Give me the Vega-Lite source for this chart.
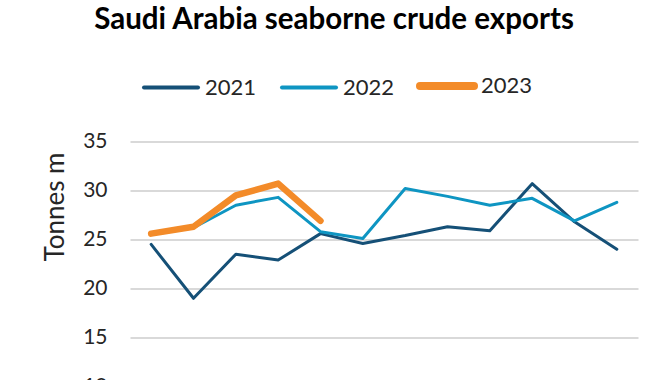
{
  "$schema": "https://vega.github.io/schema/vega-lite/v6.json",
  "width": 508,
  "height": 245,
  "autosize": "none",
  "padding": {"left": 130, "top": 141.5, "right": 32, "bottom": 0},
  "background": "white",
  "title": {
    "text": "Saudi Arabia seaborne crude exports",
    "font": "Lato",
    "fontSize": 29.5,
    "fontWeight": "bold",
    "color": "#000000",
    "anchor": "middle",
    "frame": "group",
    "dx": -50,
    "offset": 20
  },
  "data": {
    "values": [
      {"month": "Jan", "year": "2021", "value": 24.5},
      {"month": "Feb", "year": "2021", "value": 19.0},
      {"month": "Mar", "year": "2021", "value": 23.5},
      {"month": "Apr", "year": "2021", "value": 22.9},
      {"month": "May", "year": "2021", "value": 25.6},
      {"month": "Jun", "year": "2021", "value": 24.6},
      {"month": "Jul", "year": "2021", "value": 25.4},
      {"month": "Aug", "year": "2021", "value": 26.3},
      {"month": "Sep", "year": "2021", "value": 25.9},
      {"month": "Oct", "year": "2021", "value": 30.7},
      {"month": "Nov", "year": "2021", "value": 26.8},
      {"month": "Dec", "year": "2021", "value": 24.0},
      {"month": "Jan", "year": "2022", "value": 25.5},
      {"month": "Feb", "year": "2022", "value": 26.2},
      {"month": "Mar", "year": "2022", "value": 28.5},
      {"month": "Apr", "year": "2022", "value": 29.3},
      {"month": "May", "year": "2022", "value": 25.8},
      {"month": "Jun", "year": "2022", "value": 25.1},
      {"month": "Jul", "year": "2022", "value": 30.2},
      {"month": "Aug", "year": "2022", "value": 29.4},
      {"month": "Sep", "year": "2022", "value": 28.5},
      {"month": "Oct", "year": "2022", "value": 29.2},
      {"month": "Nov", "year": "2022", "value": 26.9},
      {"month": "Dec", "year": "2022", "value": 28.8},
      {"month": "Jan", "year": "2023", "value": 25.6},
      {"month": "Feb", "year": "2023", "value": 26.3},
      {"month": "Mar", "year": "2023", "value": 29.5},
      {"month": "Apr", "year": "2023", "value": 30.7},
      {"month": "May", "year": "2023", "value": 26.9}
    ]
  },
  "mark": {"type": "line", "strokeJoin": "round", "strokeCap": "round"},
  "encoding": {
    "x": {
      "field": "month",
      "type": "ordinal",
      "sort": ["Jan","Feb","Mar","Apr","May","Jun","Jul","Aug","Sep","Oct","Nov","Dec"],
      "scale": {"type": "point", "padding": 0.5},
      "axis": {"title": null, "labels": false, "ticks": false, "domainColor": "#d9d9d9", "domainWidth": 2}
    },
    "y": {
      "field": "value",
      "type": "quantitative",
      "scale": {"domain": [10, 35], "nice": false, "zero": false},
      "axis": {
        "title": "Tonnes m",
        "values": [10, 15, 20, 25, 30, 35],
        "domain": false,
        "ticks": false,
        "grid": true,
        "gridColor": "#d9d9d9",
        "gridWidth": 2,
        "labelFont": "Lato",
        "labelFontSize": 21,
        "labelColor": "#262626",
        "labelPadding": 23,
        "titleFont": "Lato",
        "titleFontSize": 26,
        "titleFontWeight": "normal",
        "titleColor": "#262626",
        "titleAngle": -90,
        "titleAlign": "center",
        "titleBaseline": "alphabetic",
        "titleX": -67,
        "titleY": 65
      }
    },
    "color": {
      "field": "year",
      "type": "nominal",
      "scale": {"domain": ["2021", "2022", "2023"], "range": ["#155077", "#0e95c2", "#f38b29"]},
      "legend": {
        "title": null,
        "orient": "none",
        "direction": "horizontal",
        "legendX": 12,
        "legendY": -86.5,
        "padding": 0,
        "symbolType": "stroke",
        "symbolSize": 2916,
        "labelFont": "Lato",
        "labelFontSize": 22,
        "labelColor": "#262626",
        "labelOffset": 5,
        "gridAlign": "all",
        "columnPadding": 9,
        "encode": {
          "symbols": {"update": {
            "strokeCap": {"value": "round"},
            "y": {"signal": "(datum.value === '2023' ? 31 : 29)"},
            "strokeWidth": {"signal": "(datum.value === '2023' ? 8 : 4)"}
          }},
          "labels": {"update": {"y": {"signal": "(datum.value === '2023' ? 31 : 29)"}}}
        }
      }
    },
    "strokeWidth": {
      "condition": {"test": "datum.year === '2023'", "value": 6.5},
      "value": 3
    }
  },
  "config": {"view": {"stroke": null}}
}
